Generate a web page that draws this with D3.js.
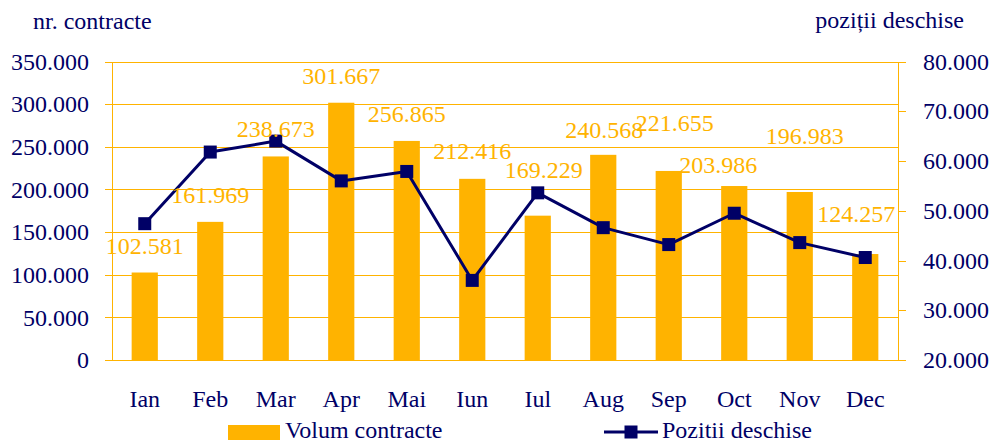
<!DOCTYPE html>
<html lang="ro">
<head>
<meta charset="UTF-8">
<title>Volum contracte si pozitii deschise</title>
<script src="https://d3js.org/d3.v7.min.js"></script>
<style>
  body { margin: 0; background: #fff; }
  svg text { font-family: "Liberation Serif", "DejaVu Serif", serif; }
</style>
</head>
<body>
<div id="chart"></div>
<script>
// data
var months = ["Ian", "Feb", "Mar", "Apr", "Mai", "Iun", "Iul", "Aug", "Sep", "Oct", "Nov", "Dec"];
var volum = [102581, 161969, 238673, 301667, 256865, 212416, 169229, 240568, 221655, 203986, 196983, 124257];
var pozitii = [47400, 61800, 64000, 56000, 57900, 36000, 53600, 46600, 43200, 49500, 43600, 40600];
var leftTicks = [0, 50000, 100000, 150000, 200000, 250000, 300000, 350000];
var rightTicks = [20000, 30000, 40000, 50000, 60000, 70000, 80000];

// hand placed data labels in the original (pixel nudges)
var labelNudge = [[0, 0], [0, 0], [0, 0], [0, 0], [0, 0], [0, -1], [6, -19], [1, 2], [6, -21], [-16, 6], [5, -29], [-9, -13]];

var W = 992, H = 441;
var orange = "#FFB300", navy = "#000066";
var pLeft = 112, pRight = 898, pTop = 61.5, pBottom = 360;
var fs = "24px";

var fmt = d3.formatLocale({ decimal: ",", thousands: ".", grouping: [3], currency: ["", ""] }).format(",d");

var svg = d3.select("#chart").append("svg")
    .attr("width", W)
    .attr("height", H);

svg.append("rect").attr("width", W).attr("height", H).attr("fill", "#fff");

var x = d3.scaleBand()
    .domain(months)
    .range([pLeft, pRight])
    .paddingInner(0.6)
    .paddingOuter(0.3);

var yL = d3.scaleLinear().domain([0, 350000]).range([pBottom, pTop]);
var yR = d3.scaleLinear().domain([20000, 80000]).range([pBottom, pTop]);

// gridlines + left ticks
var gl = d3.axisLeft(yL).tickValues(leftTicks).tickSize(pRight - pLeft + 7).tickFormat(fmt);
var gLeft = svg.append("g")
    .attr("transform", "translate(" + pRight + ",0)")
    .call(gl);
gLeft.select(".domain").remove();
gLeft.selectAll(".tick line").attr("stroke", orange).attr("stroke-width", 1).attr("shape-rendering", "crispEdges");
gLeft.selectAll(".tick text")
    .attr("fill", navy)
    .style("font-size", fs)
    .attr("x", 89 - pRight)
    .attr("text-anchor", "end");

// left vertical line
svg.append("line").attr("x1", pLeft).attr("x2", pLeft).attr("y1", pTop).attr("y2", pBottom)
    .attr("stroke", orange).attr("shape-rendering", "crispEdges");

var ar = d3.axisRight(yR).tickValues(rightTicks).tickSize(8).tickFormat(fmt);
var gRight = svg.append("g")
    .attr("transform", "translate(" + pRight + ",0)")
    .call(ar);
gRight.select(".domain").attr("stroke", orange).attr("shape-rendering", "crispEdges");
gRight.selectAll(".tick line").attr("stroke", orange).attr("shape-rendering", "crispEdges");
gRight.selectAll(".tick text")
    .attr("fill", navy)
    .style("font-size", fs)
    .attr("x", 923 - pRight)
    .attr("text-anchor", "start");

// bars
svg.selectAll(".bar")
    .data(volum)
    .enter().append("rect")
    .attr("class", "bar")
    .attr("x", function(d, i) { return x(months[i]); })
    .attr("y", function(d) { return yL(d); })
    .attr("width", x.bandwidth())
    .attr("height", function(d) { return yL(0) - yL(d); })
    .attr("fill", orange);

// x labels
svg.selectAll(".xlab")
    .data(months)
    .enter().append("text")
    .attr("class", "xlab")
    .attr("x", function(d) { return x(d) + x.bandwidth() / 2; })
    .attr("y", 407)
    .attr("text-anchor", "middle")
    .attr("fill", navy)
    .style("font-size", fs)
    .text(function(d) { return d; });

// line
var cx = function(d, i) { return x(months[i]) + x.bandwidth() / 2; };
var line = d3.line()
    .x(cx)
    .y(function(d) { return yR(d); });

svg.append("path")
    .datum(pozitii)
    .attr("d", line)
    .attr("fill", "none")
    .attr("stroke", navy)
    .attr("stroke-width", 3)
    .attr("stroke-linejoin", "round");

svg.selectAll(".mark")
    .data(pozitii)
    .enter().append("rect")
    .attr("class", "mark")
    .attr("x", function(d, i) { return cx(d, i) - 6.5; })
    .attr("y", function(d) { return yR(d) - 6.5; })
    .attr("width", 13)
    .attr("height", 13)
    .attr("fill", navy);

// data labels
svg.selectAll(".dlab")
    .data(volum)
    .enter().append("text")
    .attr("class", "dlab")
    .attr("x", function(d, i) { return x(months[i]) + x.bandwidth() / 2 + labelNudge[i][0]; })
    .attr("y", function(d, i) { return yL(d) - 19 + labelNudge[i][1]; })
    .attr("text-anchor", "middle")
    .attr("fill", orange)
    .style("font-size", fs)
    .text(function(d) { return fmt(d); });

// axis titles
svg.append("text").attr("x", 33).attr("y", 29).attr("fill", navy)
    .style("font-size", fs).text("nr. contracte");
svg.append("text").attr("x", 964).attr("y", 28).attr("fill", navy)
    .attr("text-anchor", "end")
    .style("font-size", fs).text("poziții deschise");

// legend
var lg = svg.append("g");
lg.append("rect").attr("x", 228).attr("y", 425).attr("width", 52).attr("height", 15).attr("fill", orange);
lg.append("text").attr("x", 285).attr("y", 438).attr("fill", navy)
    .style("font-size", fs).text("Volum contracte");
lg.append("line").attr("x1", 604).attr("x2", 658).attr("y1", 432).attr("y2", 432)
    .attr("stroke", navy).attr("stroke-width", 3);
lg.append("rect").attr("x", 624.5).attr("y", 425.5).attr("width", 13).attr("height", 13).attr("fill", navy);
lg.append("text").attr("x", 662).attr("y", 438).attr("fill", navy)
    .style("font-size", fs).text("Pozitii deschise");
</script>
</body>
</html>
